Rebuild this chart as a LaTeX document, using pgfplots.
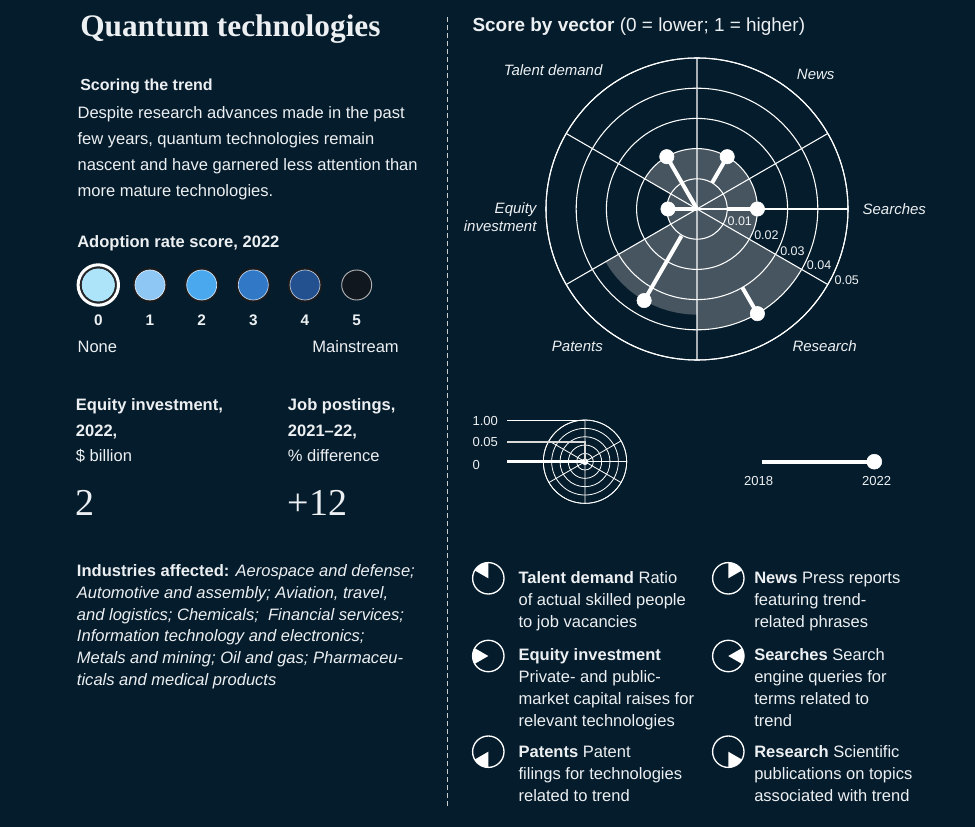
\documentclass[border=0pt]{standalone}
\usepackage{fontspec}
\setmainfont{Liberation Sans}
\newfontfamily\serifface{Liberation Serif}
\usepackage{pgfplots}
\pgfplotsset{compat=1.18}
\usepgfplotslibrary{polar}

\definecolor{bgnavy}{HTML}{051C2C}
\definecolor{secgray}{HTML}{46555F}
\definecolor{txtcol}{HTML}{EDF0F2}
\definecolor{divcol}{HTML}{C9CED3}
\definecolor{c0}{HTML}{AEE4F9}
\definecolor{c1}{HTML}{8EC6F4}
\definecolor{c2}{HTML}{4AA8EE}
\definecolor{c3}{HTML}{3178C6}
\definecolor{c4}{HTML}{23508F}
\definecolor{c5}{HTML}{10171F}
\definecolor{ringdk}{HTML}{1C1A1A}

% text helpers, coordinates in reference pixels (y downwards)
\newcommand{\T}[3]{\node[anchor=base west,inner sep=0pt] at (#1,-#2) {#3};}
\newcommand{\TR}[3]{\node[anchor=base east,inner sep=0pt] at (#1,-#2) {#3};}
\newcommand{\TC}[3]{\node[anchor=base,inner sep=0pt] at (#1,-#2) {#3};}
\newcommand{\body}{\fontsize{12.4}{15}\selectfont}
\newcommand{\keyfont}{\fontsize{9.8}{12}\selectfont}
\newcommand{\icon}[4]{%
  \fill[white] (#1,-#2) -- ++(#3:15.7) arc[start angle=#3,end angle=#4,radius=15.7] -- cycle;
  \draw[white,line width=1pt] (#1,-#2) circle[radius=15.7];}

\begin{document}
\begin{tikzpicture}[x=0.75pt,y=0.75pt,every node/.style={text=txtcol}]
\fill[bgnavy] (0,0) rectangle (975,-827);

% ---------- left column ----------
\T{80}{37}{\serifface\bfseries\fontsize{23.5}{26}\selectfont Quantum technologies}
\T{80}{90.7}{\bfseries\fontsize{12}{14}\selectfont Scoring the trend}
\T{77.3}{119}{\body Despite research advances made in the past}
\T{77.3}{145}{\body few years, quantum technologies remain}
\T{77.3}{170.7}{\body nascent and have garnered less attention than}
\T{77.3}{196.7}{\body more mature technologies.}

\T{77}{247.7}{\bfseries\body Adoption rate score, 2022}
\fill[c0] (98.3,-285) circle[radius=16.7];
\draw[black!85,line width=1.5pt] (98.3,-285) circle[radius=17.7];
\draw[white,line width=2.25pt] (98.3,-285) circle[radius=20.2];
\foreach \xx/\cc in {150/c1,201.7/c2,253.3/c3,305/c4}{
  \draw[ringdk,line width=1.5pt] (\xx,-285) circle[radius=16.2];
  \fill[\cc] (\xx,-285) circle[radius=15];
  \draw[white!70!\cc,line width=0.5pt] (\xx,-285) circle[radius=15];
}
\fill[c5] (356.7,-285) circle[radius=15];
\draw[white!70!black,line width=0.7pt] (356.7,-285) circle[radius=15];
\foreach \xx/\nn in {98.3/0,150/1,201.7/2,253.3/3,305/4,356.7/5}{
  \TC{\xx}{326}{\bfseries\fontsize{11.5}{13}\selectfont \nn}
}
\T{77.3}{352.7}{\body None}
\TR{399}{352.7}{\body Mainstream}

\T{75.7}{410}{\bfseries\body Equity investment,}
\T{75.7}{436.7}{\bfseries\body 2022,}
\T{75.7}{461.7}{\body \$ billion}
\T{287.7}{410}{\bfseries\body Job postings,}
\T{287.7}{436.7}{\bfseries\body 2021–22,}
\T{287.7}{461.7}{\body \% difference}
\T{75.7}{515}{\serifface\fontsize{28.5}{30}\selectfont 2}
\T{287.7}{515}{\serifface\fontsize{28.5}{30}\selectfont +12}

\T{76.7}{576.7}{\body\textbf{Industries affected:} \textit{Aerospace and defense;}}
\T{76.7}{598.3}{\body\itshape Automotive and assembly; Aviation, travel,}
\T{76.7}{620}{\body\itshape and logistics; Chemicals;\ \ Financial services;}
\T{76.7}{641.7}{\body\itshape Information technology and electronics;}
\T{76.7}{663.3}{\body\itshape Metals and mining; Oil and gas; Pharmaceu-}
\T{76.7}{685}{\body\itshape ticals and medical products}

% divider
\draw[divcol,line width=0.8pt,dash pattern=on 3.75pt off 2.25pt] (447.7,-17) -- (447.7,-806);

% ---------- right column ----------
\T{472.3}{31.7}{\fontsize{14.2}{16}\selectfont\textbf{Score by vector} (0 = lower; 1 = higher)}

\begin{polaraxis}[
  at={(522.75pt,-156.75pt)}, anchor=center,
  scale only axis, width=226.5pt, height=226.5pt,
  xmin=0, xmax=360, ymin=0, ymax=0.05,
  xtick={30,90,150,210,270,330},
  ytick={0.01,0.02,0.03,0.04,0.05},
  xticklabels={}, yticklabels={}, scaled y ticks=false,
  major tick length=0pt,
  grid=major, major grid style={white,line width=0.8pt},
  axis line style={white,line width=0.8pt},
  axis on top, clip=false,
]
% 2022 score of each vector, drawn as a sector
\addplot[draw=none,fill=secgray] coordinates {(120,0) (90,0.02) (95,0.02) (100,0.02) (105,0.02) (110,0.02) (115,0.02) (120,0.02) (125,0.02) (130,0.02) (135,0.02) (140,0.02) (145,0.02) (150,0.02)};
\addplot[draw=none,fill=secgray] coordinates {(60,0) (30,0.02) (35,0.02) (40,0.02) (45,0.02) (50,0.02) (55,0.02) (60,0.02) (65,0.02) (70,0.02) (75,0.02) (80,0.02) (85,0.02) (90,0.02)};
\addplot[draw=none,fill=secgray] coordinates {(0,0) (-30,0.02) (-25,0.02) (-20,0.02) (-15,0.02) (-10,0.02) (-5,0.02) (0,0.02) (5,0.02) (10,0.02) (15,0.02) (20,0.02) (25,0.02) (30,0.02)};
\addplot[draw=none,fill=secgray] coordinates {(300,0) (270,0.04) (275,0.04) (280,0.04) (285,0.04) (290,0.04) (295,0.04) (300,0.04) (305,0.04) (310,0.04) (315,0.04) (320,0.04) (325,0.04) (330,0.04)};
\addplot[draw=none,fill=secgray] coordinates {(240,0) (210,0.035) (215,0.035) (220,0.035) (225,0.035) (230,0.035) (235,0.035) (240,0.035) (245,0.035) (250,0.035) (255,0.035) (260,0.035) (265,0.035) (270,0.035)};
\addplot[draw=none,fill=secgray] coordinates {(180,0) (150,0.01) (155,0.01) (160,0.01) (165,0.01) (170,0.01) (175,0.01) (180,0.01) (185,0.01) (190,0.01) (195,0.01) (200,0.01) (205,0.01) (210,0.01)};
% 2018 -> 2022 movement
\pgfplotsset{move/.style={white,line width=3pt,mark=*,mark indices={2},mark size=5.4pt,mark options={solid,fill=white,draw=white,line width=0.4pt}}}
\addplot[move] coordinates {(120,0) (120,0.02)};
\addplot[move] coordinates {(60,0.01) (60,0.02)};
\addplot[move] coordinates {(0,0.01) (0,0.02)};
\addplot[move] coordinates {(300,0.03) (300,0.04)};
\addplot[move] coordinates {(240,0.0103) (240,0.035)};
\addplot[move] coordinates {(180,0) (180,0.0096)};
\end{polaraxis}

% vector names
\TR{602.7}{76}{\itshape\fontsize{11.25}{13}\selectfont Talent demand}
\T{796.7}{79.3}{\itshape\fontsize{11.25}{13}\selectfont News}
\T{862.3}{214.3}{\itshape\fontsize{11.25}{13}\selectfont Searches}
\T{792.3}{351.7}{\itshape\fontsize{11.25}{13}\selectfont Research}
\T{551.7}{351.7}{\itshape\fontsize{11.25}{13}\selectfont Patents}
\TR{536.7}{213.3}{\itshape\fontsize{11.25}{13}\selectfont Equity}
\TR{536.7}{231.7}{\itshape\fontsize{11.25}{13}\selectfont investment}
% ring values
\foreach \xx/\yy/\vv in {727.3/225.7/0.01,754/240/0.02,780/256/0.03,806.7/270/0.04,834.3/284.3/0.05}{
  \T{\xx}{\yy}{\fontsize{9.4}{10}\selectfont \vv}
}

% scale key
\begin{polaraxis}[
  at={(438.75pt,-346.275pt)}, anchor=center,
  scale only axis, width=62.5pt, height=62.5pt,
  xmin=0, xmax=360, ymin=0, ymax=1,
  xtick={30,90,150,210,270,330},
  ytick={0.2,0.4,0.6,0.8,1},
  xticklabels={}, yticklabels={},
  major tick length=0pt,
  grid=major, major grid style={white,line width=0.6pt},
  axis line style={white,line width=0.6pt},
  clip=false,
]
\addplot[only marks,mark=*,mark size=2.3pt,mark options={fill=white,draw=white}] coordinates {(0,0)};
\end{polaraxis}
\draw[white,line width=0.7pt] (507.3,-420.7) -- (585,-420.7);
\draw[white!85!black,line width=1.3pt] (507.3,-442.3) -- (585,-442.3) -- (585,-461.7);
\draw[white,line width=2.2pt] (507.3,-461.7) -- (585,-461.7);
\T{472.3}{425}{\keyfont 1.00}
\T{472.3}{446.7}{\keyfont 0.05}
\T{472.3}{469}{\keyfont 0}

% time key
\begin{axis}[
  at={(571.275pt,-346.275pt)}, anchor=west,
  scale only axis, width=84.45pt, height=10pt,
  xmin=2018, xmax=2022, ymin=-1, ymax=1,
  hide axis, clip=false,
]
\addplot[white,line width=3pt,mark=*,mark indices={2},mark size=5.6pt,mark options={fill=white,draw=white,line width=0.4pt}] coordinates {(2018,0) (2022,0)};
\end{axis}
\TC{758.7}{485.7}{\keyfont 2018}
\TC{876.7}{485.7}{\keyfont 2022}

% vector key
\icon{488.3}{578.3}{90}{150}
\icon{728.3}{578.3}{30}{90}
\icon{488.3}{656}{150}{210}
\icon{728.3}{656}{-30}{30}
\icon{488.3}{751.7}{210}{270}
\icon{728.3}{751.7}{270}{330}

\T{518.3}{583.3}{\body\textbf{Talent demand} Ratio}
\T{518.3}{605.3}{\body of actual skilled people}
\T{518.3}{627.3}{\body to job vacancies}
\T{518.3}{660}{\body\textbf{Equity investment}}
\T{518.3}{682}{\body Private- and public-}
\T{518.3}{704}{\body market capital raises for}
\T{518.3}{726}{\body relevant technologies}
\T{518.3}{757}{\body\textbf{Patents} Patent}
\T{518.3}{779}{\body filings for technologies}
\T{518.3}{801}{\body related to trend}

\T{754}{583.3}{\body\textbf{News} Press reports}
\T{754}{605.3}{\body featuring trend-}
\T{754}{627.3}{\body related phrases}
\T{754}{660}{\body\textbf{Searches} Search}
\T{754}{682}{\body engine queries for}
\T{754}{704}{\body terms related to}
\T{754}{726}{\body trend}
\T{754}{757}{\body\textbf{Research} Scientific}
\T{754}{779}{\body publications on topics}
\T{754}{801}{\body associated with trend}

\pgfresetboundingbox
\path[use as bounding box] (0,0) rectangle (975,-827);
\end{tikzpicture}
\end{document}
